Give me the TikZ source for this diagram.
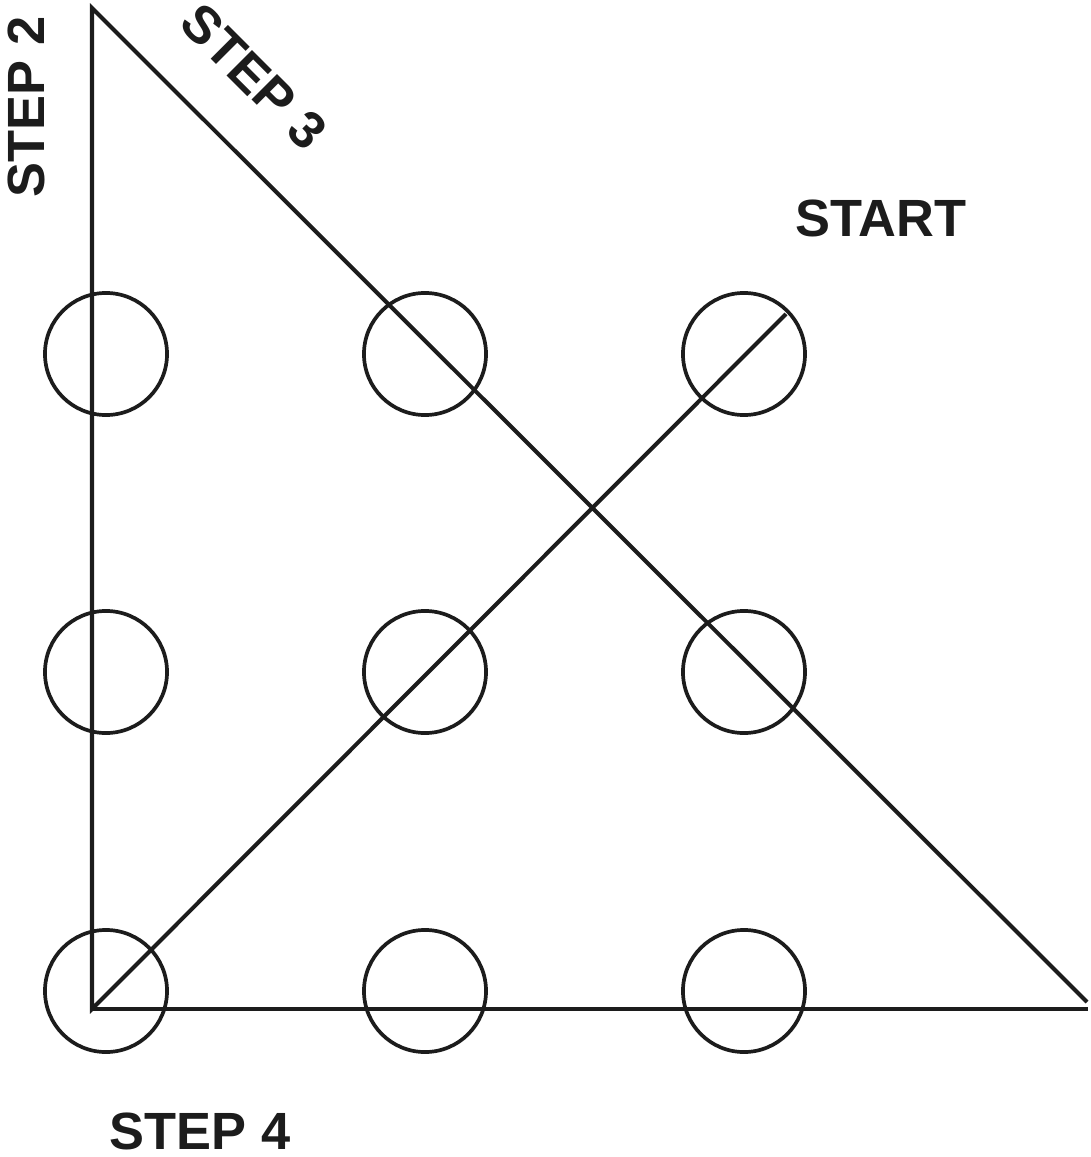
\documentclass[tikz,border=0pt]{standalone}
\usepackage{fontspec}
\setmainfont{Liberation Sans}
\begin{document}
\begin{tikzpicture}[x=0.01cm,y=-0.01cm,
  dot/.style={circle,draw=ink,line width=1.05pt,minimum size=1.22cm,inner sep=0pt},
  stroke/.style={draw=ink,line width=1.15pt,line join=miter},
  lbl/.style={font=\fontsize{14.9}{16}\selectfont\bfseries,text=ink,inner sep=0pt}]
\definecolor{ink}{HTML}{1C1C1C}
\useasboundingbox (0,0) rectangle (1090,1157);
% the nine dots
\foreach \c/\x in {1/106,2/425,3/744}{
  \foreach \r/\y in {1/354,2/672,3/991}{
    \node[dot] (d\r\c) at (\x,\y) {};
  }
}
% corners of the four-stroke path
\coordinate (p0) at (786,314);
\coordinate (p1) at (92,1009);
\coordinate (p2) at (92,8);
\coordinate (p3) at (1087,1002);
\coordinate (p4) at (1088,1009);
\draw[stroke] (p0) -- (p1) -- (p2) -- (p3);
\draw[stroke] (p1) -- (p4);
% labels
\node[lbl] (start) at (881,218) {START};
\node[lbl,rotate=90] (s2) at (26,107) {STEP 2};
\node[lbl,rotate=-45] (s3) at (254,77) {STEP 3};
\node[lbl] (s4) at (200,1131) {STEP 4};
\end{tikzpicture}
\end{document}
